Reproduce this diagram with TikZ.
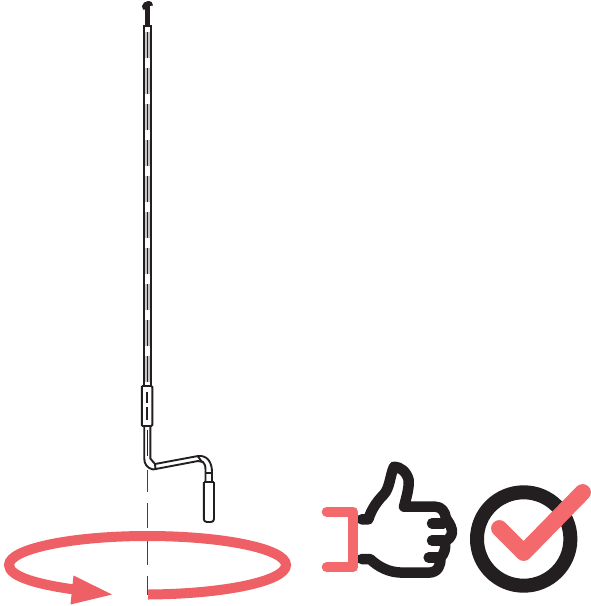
\documentclass[tikz,border=0pt]{standalone}
\definecolor{ink}{HTML}{231F20}
\definecolor{pinkarrow}{HTML}{EE6065}
\definecolor{pinkmark}{HTML}{F4696B}
\tikzset{
  rodline/.style={draw=ink,line width=1.9pt},
  axisline/.style={draw=ink!85,line width=1.3pt},
  icon/.style={draw=ink,line width=10.5pt,line cap=round,line join=round},
  pinkstroke/.style={draw=pinkmark,line width=10pt,line cap=round,line join=round}
}
\begin{document}
\begin{tikzpicture}[x=1pt,y=-1pt]
\path[use as bounding box,fill=white] (0,0) rectangle (591,606);
% top fitting
\fill[ink] (145.3,3) rectangle (149.7,25);
\fill[ink] (142,6) .. controls (142.5,3) and (145,1.5) .. (148,1) .. controls (151.5,1) and (153,3) .. (153,5.5) -- (149.5,6) -- (146.5,7) -- (145.5,9.5) -- (143,9.5) -- cycle;
% rod
\draw[draw=ink!25,line width=5pt,dash pattern=on 26pt off 10pt] (147.5,32) -- (147.5,384);
\draw[draw=ink,line width=1.6pt,dash pattern=on 26pt off 10pt] (147.5,32) -- (147.5,384);
\draw[rodline] (144.2,25) -- (144.2,386);
\draw[rodline] (150.8,25) -- (150.8,386);
\draw[rodline] (143.3,26) -- (151.7,26);
% sleeve
\draw[rodline,rounded corners=1pt] (141.8,386) rectangle (152.3,426);
\draw[draw=ink,line width=1.3pt] (147,392) -- (147,403) (147,407) -- (147,420);
% lower rod
\draw[rodline] (144.2,426) -- (144.2,458) .. controls (144.2,464) and (147,468) .. (153,469.5);
\draw[rodline] (150.3,426) -- (150.3,458.5) -- (155,464) -- (155.5,469);
\draw[draw=ink,line width=1.3pt] (147.3,430) -- (147.3,456);
% crank
\draw[rodline] (155,464) -- (198,456) .. controls (207,455) and (212,462) .. (212,472) -- (212,482);
\draw[rodline] (153,469.5) -- (198,461) -- (203,462) .. controls (205,464) and (205.5,466) .. (205.5,470) -- (205.5,482);
\draw[rodline] (198,456.5) -- (202,462);
\draw[rodline] (205.5,473) -- (212,473);
% grip
\draw[rodline,rounded corners=3pt] (203.8,482) -- (203.8,522) -- (214,522) -- (214,482);
\draw[rodline] (203.8,482.3) -- (214,482.3);
% axis
\draw[axisline] (147.5,470) -- (147.5,492);
\draw[axisline] (147.5,503) -- (147.5,528);
\draw[axisline] (147.5,541) -- (147.5,565);
\draw[axisline] (147.5,576) -- (147.5,595);
% rotation arrow
\draw[draw=pinkarrow,line width=10pt] (148,594.5)
  .. controls (225,594) and (286,581) .. (286,565)
  .. controls (286,549) and (224,536) .. (147.5,536)
  .. controls (71,536) and (9,549) .. (9,565)
  .. controls (9,577) and (40,585) .. (78,590);
\fill[pinkarrow] (112,594.5) -- (73.5,575.5) -- (70.5,604.5) -- cycle;
% thumb
\begin{scope}[shift={(310,450)},scale=1/3]
\draw[icon] (155,208) -- (175,208) .. controls (185,175) and (205,150) .. (220,135)
  .. controls (240,115) and (240,75) .. (252,50) .. controls (270,50) and (290,65) .. (296,90)
  .. controls (298,115) and (288,145) .. (282,170) -- (375,170)
  .. controls (395,170) and (405,185) .. (408,205) .. controls (422,225) and (426,235) .. (426,247)
  .. controls (425,260) and (415,268) .. (405,275) .. controls (408,295) and (403,310) .. (392,323)
  .. controls (392,345) and (385,368) .. (355,368) -- (280,368)
  .. controls (235,368) and (205,350) .. (180,327) -- (155,327);
\draw[icon] (366,220) -- (400,220);
\draw[icon] (366,272) -- (400,272);
\draw[icon] (356,323) -- (392,323);
\draw[pinkstroke] (50,185) -- (130,185) -- (130,352) -- (50,352);
\end{scope}
% check
\draw[draw=ink,line width=14pt] (523.7,539) circle (46.7);
\begin{scope}[shift={(310,450)},scale=1/3]
\draw[draw=pinkmark,line width=16.5pt,line cap=round,line join=round] (568,235) -- (641,308) -- (818,127);
\end{scope}
\end{tikzpicture}
\end{document}
